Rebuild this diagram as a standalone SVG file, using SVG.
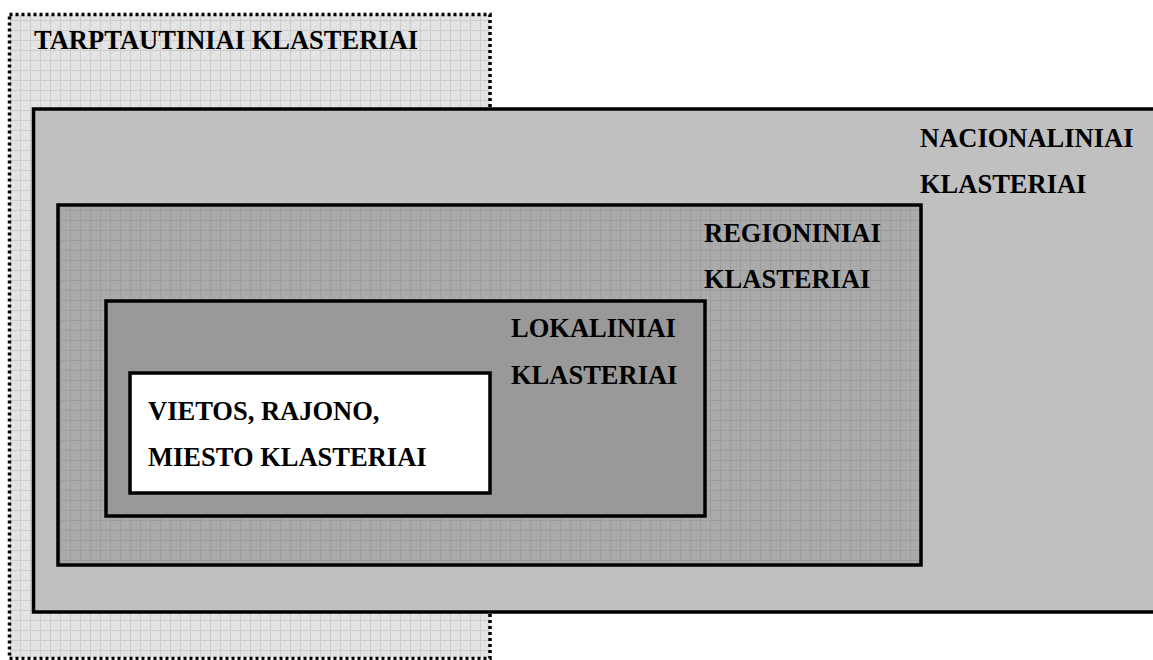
<svg xmlns="http://www.w3.org/2000/svg" width="1153" height="660" viewBox="0 0 1153 660">
<style>
.lbl{font-family:"Liberation Serif","Times New Roman",serif;font-weight:bold;font-size:26.5px;fill:#000}
.box{stroke:#000;stroke-width:3.5}
</style>
<defs>
<pattern id="gridLight" width="10" height="10" patternUnits="userSpaceOnUse">
<rect width="10" height="10" fill="#e2e2e2"/>
<path d="M0 0.5H10M0.5 0V10" stroke="#cdcdcd" stroke-width="1"/>
<rect x="4" y="4" width="1" height="1" fill="#f4f4f4"/>
<rect x="7" y="2" width="1" height="1" fill="#f4f4f4"/>
<rect x="2" y="7" width="1" height="1" fill="#f4f4f4"/>
</pattern>
<pattern id="gridDark" width="10" height="10" patternUnits="userSpaceOnUse">
<rect width="10" height="10" fill="#aaaaaa"/>
<path d="M0 0.5H10M0.5 0V10" stroke="#9d9d9d" stroke-width="1"/>
<rect x="4" y="4" width="1" height="1" fill="#b6b6b6"/>
<rect x="7" y="7" width="1" height="1" fill="#b6b6b6"/>
</pattern>
</defs>
<rect width="1153" height="660" fill="#fff"/>
<g id="tarptautiniai">
<rect x="9.5" y="14.5" width="480.5" height="644" fill="url(#gridLight)" stroke="#000" stroke-width="3.5" stroke-dasharray="3 3"/>
<text class="lbl" x="34" y="49">TARPTAUTINIAI KLASTERIAI</text>
</g>
<g id="nacionaliniai">
<rect class="box" x="33.5" y="109" width="1130" height="503" fill="#c0c0c0"/>
<text class="lbl" x="920" y="147">NACIONALINIAI</text>
<text class="lbl" x="920" y="193">KLASTERIAI</text>
</g>
<g id="regioniniai">
<rect class="box" x="58" y="205" width="863" height="360" fill="url(#gridDark)"/>
<text class="lbl" x="704" y="242">REGIONINIAI</text>
<text class="lbl" x="704" y="288">KLASTERIAI</text>
</g>
<g id="lokaliniai">
<rect class="box" x="106" y="301" width="599" height="215" fill="#999999"/>
<text class="lbl" x="511" y="337">LOKALINIAI</text>
<text class="lbl" x="511" y="384">KLASTERIAI</text>
</g>
<g id="vietos">
<rect class="box" x="130" y="373" width="360" height="120" fill="#fff"/>
<text class="lbl" x="148" y="420">VIETOS, RAJONO,</text>
<text class="lbl" x="148" y="466">MIESTO KLASTERIAI</text>
</g>
<g id="connectors"/>
</svg>
